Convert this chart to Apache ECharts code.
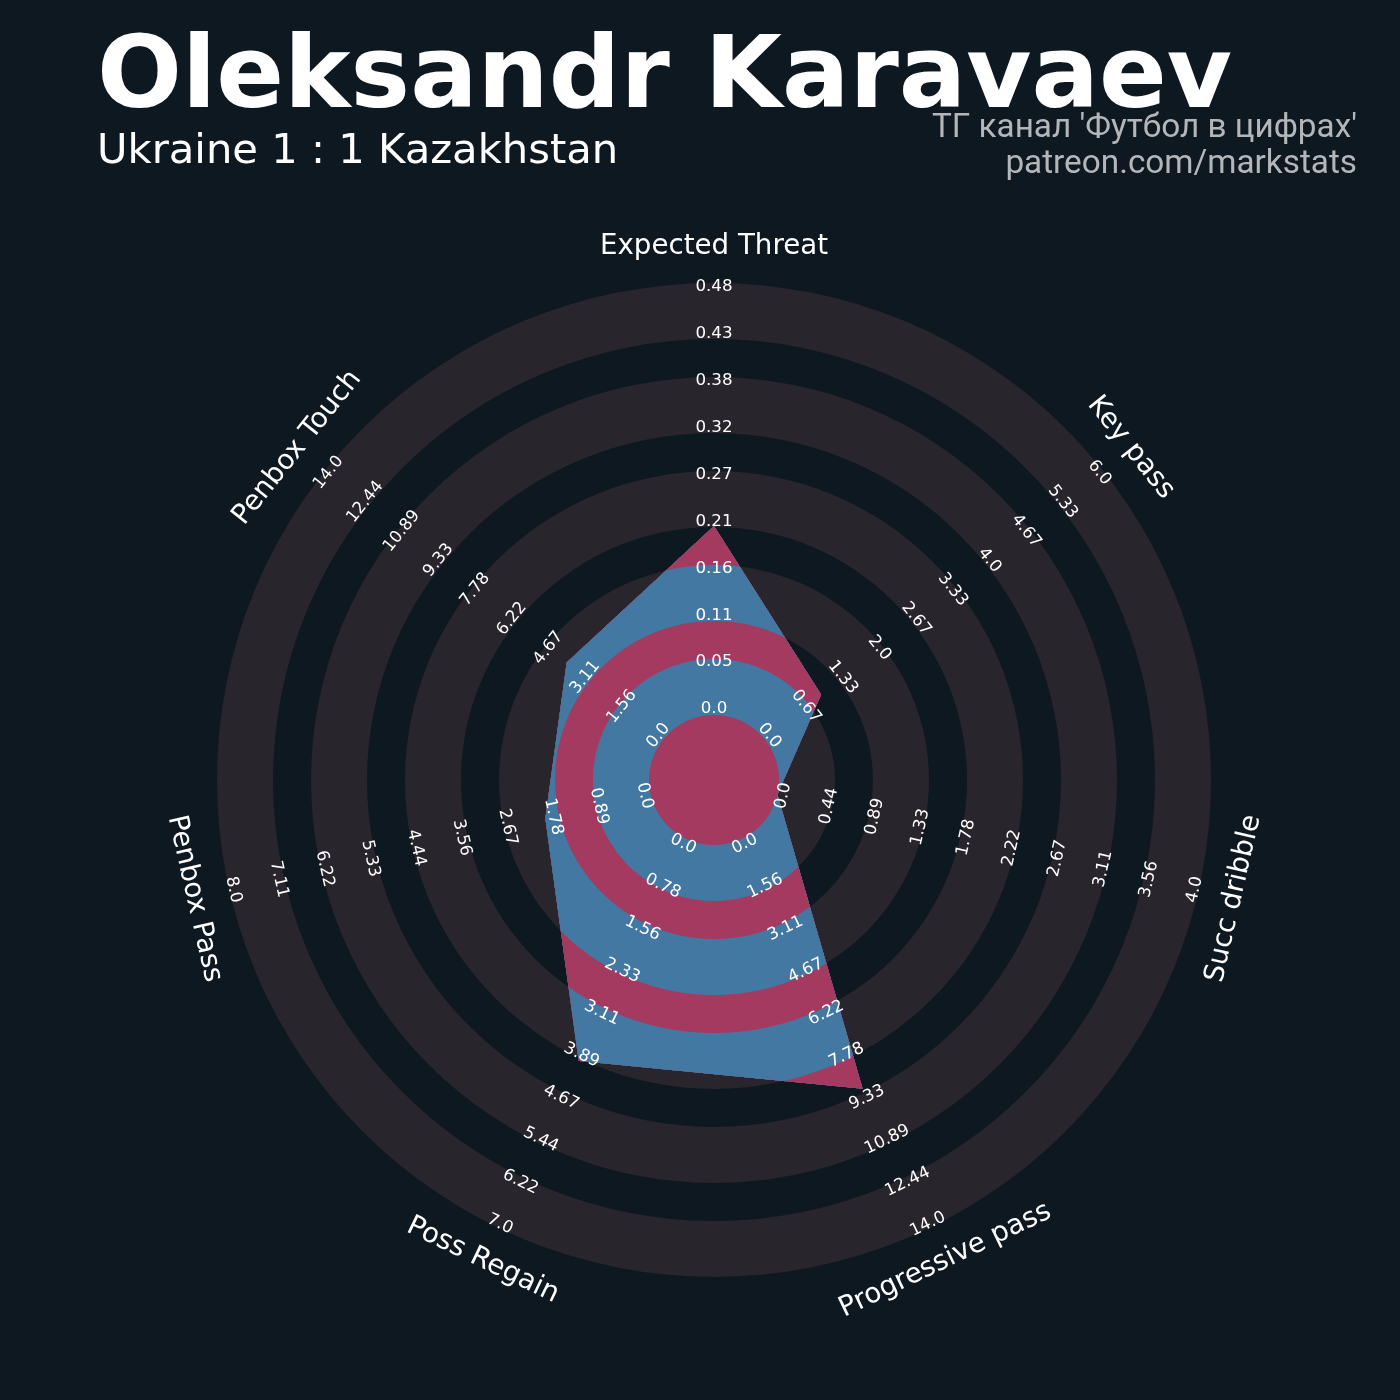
<!DOCTYPE html>
<html>
<head>
<meta charset="utf-8">
<script src="https://cdn.jsdelivr.net/npm/echarts@6.0.0/dist/echarts.min.js"></script>
<style>
html,body{margin:0;padding:0;background:#0e1821;}
#chart{width:1400px;height:1400px;}
</style>
</head>
<body>
<div id="chart"></div>
<script>
// ---------------- data ----------------
const params = ['Expected Threat', 'Key pass', 'Succ dribble', 'Progressive pass', 'Poss Regain', 'Penbox Pass', 'Penbox Touch'];
const lows   = [0, 0, 0, 0, 0, 0, 0];
const highs  = [0.48, 6, 4, 14, 7, 8, 14];
const values = [0.21, 1, 0, 9, 4, 2, 4];

const ticksExpectedThreat = ['0.0', '0.05', '0.11', '0.16', '0.21', '0.27', '0.32', '0.38', '0.43', '0.48'];
const ticksKeyPass        = ['0.0', '0.67', '1.33', '2.0', '2.67', '3.33', '4.0', '4.67', '5.33', '6.0'];
const ticksSuccDribble    = ['0.0', '0.44', '0.89', '1.33', '1.78', '2.22', '2.67', '3.11', '3.56', '4.0'];
const ticksProgPass       = ['0.0', '1.56', '3.11', '4.67', '6.22', '7.78', '9.33', '10.89', '12.44', '14.0'];
const ticksPossRegain     = ['0.0', '0.78', '1.56', '2.33', '3.11', '3.89', '4.67', '5.44', '6.22', '7.0'];
const ticksPenboxPass     = ['0.0', '0.89', '1.78', '2.67', '3.56', '4.44', '5.33', '6.22', '7.11', '8.0'];
const ticksPenboxTouch    = ['0.0', '1.56', '3.11', '4.67', '6.22', '7.78', '9.33', '10.89', '12.44', '14.0'];
const tickLabels = [ticksExpectedThreat, ticksKeyPass, ticksSuccDribble, ticksProgPass, ticksPossRegain, ticksPenboxPass, ticksPenboxTouch];

const titleText = 'Oleksandr Karavaev';
const subtitleText = 'Ukraine 1 : 1 Kazakhstan';
const creditLine1 = "ТГ канал 'Футбол в цифрах'";
const creditLine2 = 'patreon.com/markstats';

// ---------------- layout / style ----------------
const BG = '#0e1821';
const RING_BG = '#29252c';
const BLUE = '#4378a2';
const MAROON = '#a43a60';
const N = params.length;
const STEP = 360 / N;
const OUTER_PX = 497;
const CENTRE = 65 / OUTER_PX;
const RING_EDGES = [65, 121, 159, 215, 253, 309, 347, 403, 441, 497].map(v => v / OUTER_PX);
const TICK_R0 = 71 / OUTER_PX, TICK_R1 = 493 / OUTER_PX;
const PARAM_R = 533 / OUTER_PX;

const angleOf = i => i * STEP;
const valueRadius = (v, i) => CENTRE + (v - lows[i]) / (highs[i] - lows[i]) * (1 - CENTRE);
const radii = values.map(valueRadius);

function cross(a, b) { return a[0] * b[1] - a[1] * b[0]; }
// radius of the data polygon along direction theta (deg, clockwise from top)
function polyRadius(thetaDeg) {
  let t = ((thetaDeg % 360) + 360) % 360;
  let i = Math.floor(t / STEP); if (i >= N) i = N - 1;
  const j = (i + 1) % N;
  const a1 = i * STEP * Math.PI / 180, a2 = (i + 1) * STEP * Math.PI / 180;
  const P = [radii[i] * Math.sin(a1), radii[i] * Math.cos(a1)];
  const Q = [radii[j] * Math.sin(a2), radii[j] * Math.cos(a2)];
  const E = [Q[0] - P[0], Q[1] - P[1]];
  const th = t * Math.PI / 180;
  const d = [Math.sin(th), Math.cos(th)];
  const den = cross(d, E);
  if (Math.abs(den) < 1e-12) return Math.min(radii[i], radii[j]);
  return cross(P, E) / den;
}
const sampleAngles = (() => {
  const s = [];
  for (let a = 0; a < 360; a += 0.1) s.push(a);
  for (let i = 0; i < N; i++) s.push(angleOf(i));
  s.sort((a, b) => a - b);
  return s;
})();

function textRotation(deg) {
  let r = -deg;
  if (deg > 90 && deg < 270) r = 180 - deg;
  return r * Math.PI / 180;
}

function radiusPx(api, r) {
  const c = api.coord([0, 0]);
  const p = api.coord([r, 0]);
  return Math.hypot(p[0] - c[0], p[1] - c[1]);
}

const bgRingIdx = [1, 3, 5, 7, 9];
const layerIdx = [9, 8, 7, 6, 5, 4, 3, 2, 1, 0];
const tickItems = [];
tickLabels.forEach((arr, i) => arr.forEach((lab, t) => tickItems.push([i, t])));

const option = {
  backgroundColor: BG,
  animation: false,
  title: [
    { text: titleText, left: 97, top: 31, padding: 0,
      textStyle: { color: '#ffffff', fontFamily: 'DejaVu Sans', fontWeight: 'bold', fontSize: 100 } },
    { text: subtitleText, left: 97, top: 131, padding: 0,
      textStyle: { color: '#ffffff', fontFamily: 'DejaVu Sans', fontWeight: 'normal', fontSize: 41.7 } },
    { text: creditLine1, right: 43, top: 111, padding: 0,
      textStyle: { color: '#b4b6b9', fontFamily: 'Roboto', fontWeight: 'normal', fontSize: 33.3, lineHeight: 36 } },
    { text: creditLine2, right: 43, top: 147, padding: 0,
      textStyle: { color: '#b4b6b9', fontFamily: 'Roboto', fontWeight: 'normal', fontSize: 33.3, lineHeight: 36 } }
  ],
  polar: { center: [714, 780], radius: OUTER_PX },
  angleAxis: { type: 'value', min: 0, max: 360, startAngle: 90, clockwise: true, show: false },
  radiusAxis: { type: 'value', min: 0, max: 1, show: false },
  series: [
    {
      type: 'custom', coordinateSystem: 'polar', silent: true, z: 1,
      data: bgRingIdx.map(() => [0, 0]),
      renderItem(p, api) {
        const k = bgRingIdx[p.dataIndex];
        const c = api.coord([0, 0]);
        return {
          type: 'sector',
          shape: { cx: c[0], cy: c[1], r0: radiusPx(api, RING_EDGES[k - 1]), r: radiusPx(api, RING_EDGES[k]), startAngle: 0, endAngle: Math.PI * 2 },
          style: { fill: RING_BG }
        };
      }
    },
    {
      type: 'custom', coordinateSystem: 'polar', silent: true, z: 2,
      data: layerIdx.map(() => [0, 0]),
      renderItem(p, api) {
        const k = layerIdx[p.dataIndex];
        const R = RING_EDGES[k];
        const pts = sampleAngles.map(a => api.coord([Math.min(R, polyRadius(a)), a]));
        return {
          type: 'polygon', z2: 100 - k,
          shape: { points: pts },
          style: { fill: (k % 2 === 0) ? MAROON : BLUE }
        };
      }
    },
    {
      type: 'custom', coordinateSystem: 'polar', silent: true, z: 3,
      data: tickItems.map(() => [0, 0]),
      renderItem(p, api) {
        const [i, t] = tickItems[p.dataIndex];
        const r = TICK_R0 + (TICK_R1 - TICK_R0) * t / (tickLabels[i].length - 1);
        const pt = api.coord([r, angleOf(i)]);
        return {
          type: 'text', x: pt[0], y: pt[1], rotation: textRotation(angleOf(i)),
          style: { text: tickLabels[i][t], fill: '#ffffff', font: '16.7px "DejaVu Sans"',
                   textAlign: 'center', textVerticalAlign: 'middle', align: 'center', verticalAlign: 'middle' }
        };
      }
    },
    {
      type: 'custom', coordinateSystem: 'polar', silent: true, z: 3,
      data: params.map(() => [0, 0]),
      renderItem(p, api) {
        const i = p.dataIndex;
        const pt = api.coord([PARAM_R, angleOf(i)]);
        return {
          type: 'text', x: pt[0], y: pt[1], rotation: textRotation(angleOf(i)),
          style: { text: params[i], fill: '#ffffff', font: '27.7px "DejaVu Sans"',
                   textAlign: 'center', textVerticalAlign: 'middle', align: 'center', verticalAlign: 'middle' }
        };
      }
    }
  ]
};

const chart = echarts.init(document.getElementById('chart'), null, { renderer: 'canvas', width: 1400, height: 1400 });
chart.setOption(option);
</script>
</body>
</html>
